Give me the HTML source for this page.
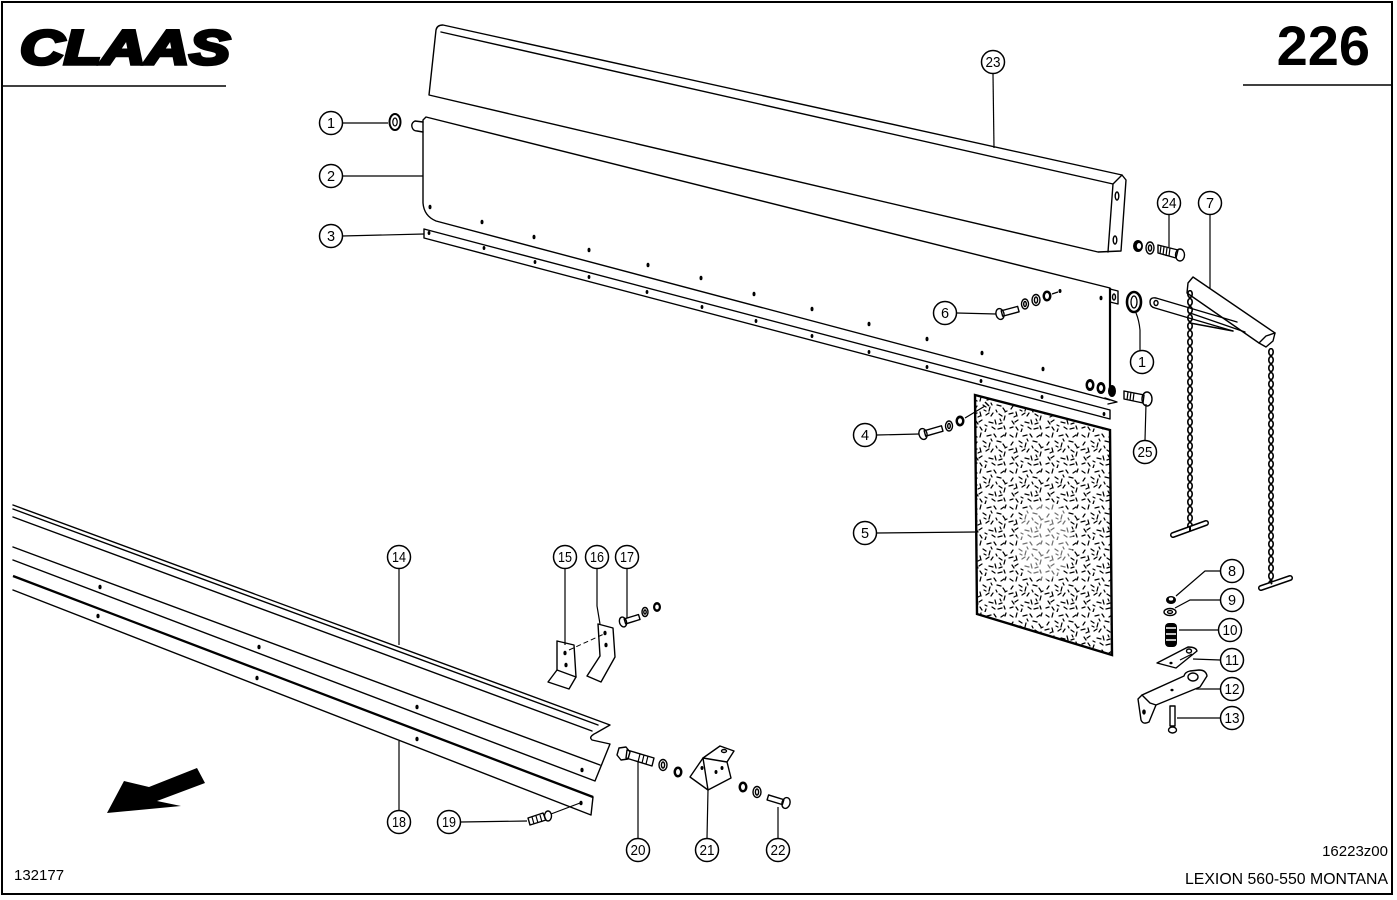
<!DOCTYPE html>
<html><head><meta charset="utf-8"><style>
html,body{margin:0;padding:0;background:#fff;}
svg{display:block;}
text{font-family:"Liberation Sans",Arial,sans-serif;}
.o{fill:none;stroke:#000;stroke-width:1.4;stroke-linejoin:round;stroke-linecap:round;}
.l{fill:none;stroke:#000;stroke-width:1.2;}
.lb circle{fill:#fff;stroke:#000;stroke-width:1.5;}
.lb text{font-size:14.5px;text-anchor:middle;fill:#000;}
.h{fill:#000;}
</style></head><body>
<svg width="1397" height="900" viewBox="0 0 1397 900" xmlns="http://www.w3.org/2000/svg">
<defs>
<pattern id="spk" width="36" height="36" patternUnits="userSpaceOnUse">
<path d="M2 3l3 2M9 1l-1 4M15 4l4-1M22 2l2 3M29 5l3-2M34 1l-1 3M5 10l-2 3M11 9l3 2M18 11l-1 4M25 9l4 1M31 12l2 3M1 18l4-1M8 16l1 4M14 19l3-2M21 17l-2 3M27 18l3 2M33 20l-1 4M4 25l2 3M10 24l-3 2M17 26l4 1M23 24l1 4M30 27l-3 1M2 32l3-1M8 31l2 3M14 33l-1 3M20 31l3 2M26 33l4-1M32 30l1 3M12 14l2 1M28 23l1 2M6 21l2-1M19 7l1 2M35 15l-2 1M24 14l1 2M13 29l2 1" stroke="#000" stroke-width="1.25" fill="none" stroke-linecap="round"/>
</pattern>
<pattern id="chL" x="1187" y="290" width="6" height="8" patternUnits="userSpaceOnUse">
<ellipse cx="3" cy="4" rx="2.2" ry="3.4" fill="none" stroke="#000" stroke-width="1.6"/>
</pattern>
<pattern id="chR" x="1268" y="348" width="6" height="8" patternUnits="userSpaceOnUse">
<ellipse cx="3" cy="4" rx="2.2" ry="3.4" fill="none" stroke="#000" stroke-width="1.6"/>
</pattern>
</defs>

<!-- frame -->
<rect x="2" y="2" width="1390" height="892" fill="none" stroke="#000" stroke-width="2"/>
<line x1="2" y1="86" x2="226" y2="86" stroke="#000" stroke-width="1.6"/>
<line x1="1243" y1="85" x2="1392" y2="85" stroke="#000" stroke-width="1.6"/>

<text x="20" y="64" font-size="48" font-weight="bold" font-style="italic" textLength="210" lengthAdjust="spacingAndGlyphs" stroke="#000" stroke-width="3.5" stroke-linejoin="miter">CLAAS</text>
<text x="1370" y="65" font-size="56" font-weight="bold" text-anchor="end">226</text>
<text x="14" y="880" font-size="15">132177</text>
<text x="1388" y="856" font-size="15" text-anchor="end">16223z00</text>
<text x="1388" y="884" font-size="16" text-anchor="end" textLength="203" lengthAdjust="spacingAndGlyphs">LEXION 560-550 MONTANA</text>

<!-- part 23 channel -->
<path class="o" d="M429,95 L436,30 Q437,25 443,25 L1122,175 L1126,180 L1121,251 L1098,252 Z"/>
<path class="o" d="M441,32 L1113,184 L1122,175 M1113,184 L1108,252"/>
<ellipse cx="1117" cy="196" rx="1.8" ry="4" class="o"/>
<ellipse cx="1115" cy="240" rx="1.8" ry="4" class="o"/>

<!-- part 2 panel -->
<path class="o" d="M1110,388 L1110,288 L426,117 L423,120 L423,203 Q424,216 436,221 L1110,400"/>
<path d="M1110,288 L1110,388" stroke="#000" stroke-width="2.2"/>
<path class="o" d="M1105,398 L1117,402 L1108,404"/>
<path class="o" d="M423,122 L415,121 Q411,123 412,127 Q413,131 417,131 L423,132"/>
<path class="o" d="M1110,289 L1118,291 L1118,304 L1110,302"/>
<ellipse cx="1114" cy="297" rx="1.5" ry="3" class="o"/>
<g class="h">
<ellipse cx="430" cy="207" rx="1.5" ry="2.3"/><ellipse cx="482" cy="222" rx="1.5" ry="2.3"/>
<ellipse cx="534" cy="237" rx="1.5" ry="2.3"/><ellipse cx="589" cy="250" rx="1.5" ry="2.3"/>
<ellipse cx="648" cy="265" rx="1.5" ry="2.3"/><ellipse cx="701" cy="278" rx="1.5" ry="2.3"/>
<ellipse cx="754" cy="294" rx="1.5" ry="2.3"/><ellipse cx="812" cy="309" rx="1.5" ry="2.3"/>
<ellipse cx="869" cy="324" rx="1.5" ry="2.3"/><ellipse cx="927" cy="339" rx="1.5" ry="2.3"/>
<ellipse cx="982" cy="353" rx="1.5" ry="2.3"/><ellipse cx="1043" cy="369" rx="1.5" ry="2.3"/>
<ellipse cx="1101" cy="298" rx="1.5" ry="2.3"/>
</g>

<!-- part 3 strip -->
<path class="o" d="M424,229 L1110,410 L1110,419 L424,238 Z"/>
<g class="h">
<ellipse cx="429" cy="233" rx="1.4" ry="2"/><ellipse cx="484" cy="248" rx="1.4" ry="2"/>
<ellipse cx="535" cy="262" rx="1.4" ry="2"/><ellipse cx="589" cy="277" rx="1.4" ry="2"/>
<ellipse cx="647" cy="292" rx="1.4" ry="2"/><ellipse cx="702" cy="307" rx="1.4" ry="2"/>
<ellipse cx="756" cy="321" rx="1.4" ry="2"/><ellipse cx="812" cy="336" rx="1.4" ry="2"/>
<ellipse cx="869" cy="352" rx="1.4" ry="2"/><ellipse cx="927" cy="367" rx="1.4" ry="2"/>
<ellipse cx="981" cy="381" rx="1.4" ry="2"/><ellipse cx="1042" cy="397" rx="1.4" ry="2"/>
<ellipse cx="1104" cy="414" rx="1.4" ry="2"/>
</g>

<!-- washers 1 -->
<ellipse cx="395" cy="122" rx="5.5" ry="8" fill="none" stroke="#000" stroke-width="2"/>
<ellipse cx="395" cy="122" rx="2.2" ry="4" fill="none" stroke="#000" stroke-width="1.2"/>
<ellipse cx="1134" cy="302" rx="7" ry="10" fill="none" stroke="#000" stroke-width="2.6"/>
<ellipse cx="1134" cy="302" rx="3" ry="6" fill="none" stroke="#000" stroke-width="1.3"/>

<!-- part 6 fasteners -->
<g transform="translate(1000,314) rotate(-15)">
<rect x="2" y="-2.8" width="17" height="5.6" class="o" fill="#fff"/>
<ellipse cx="0" cy="0" rx="4" ry="5.5" class="o" fill="#fff"/>
</g>
<ellipse cx="1025" cy="304" rx="3.5" ry="5" class="o"/>
<ellipse cx="1025" cy="304" rx="1.3" ry="2.5" class="o"/>
<ellipse cx="1036" cy="300" rx="4" ry="5.5" class="o"/>
<ellipse cx="1036" cy="300" rx="1.6" ry="3" class="o"/>
<ellipse cx="1047" cy="296" rx="4.5" ry="5.5" fill="#000"/>
<ellipse cx="1047" cy="296" rx="2" ry="3" fill="#fff"/>
<path class="l" d="M1052,294 L1058,292"/><ellipse cx="1060" cy="291" rx="1.5" ry="2" class="h"/>

<!-- part 24 fasteners -->
<ellipse cx="1138" cy="246" rx="5" ry="6" fill="#000"/>
<ellipse cx="1139" cy="246" rx="2.2" ry="3" fill="#fff"/>
<ellipse cx="1150" cy="248" rx="4" ry="6" class="o"/>
<ellipse cx="1150" cy="248" rx="1.6" ry="3" class="o"/>
<path class="o" d="M1158,245 L1178,250 L1176,258 L1158,253 Z"/>
<path class="l" d="M1161,246 l-1,8 M1164,247 l-1,8 M1167,248 l-1,8 M1170,248 l-1,8"/>
<ellipse cx="1180" cy="255" rx="4.5" ry="6" class="o" fill="#fff"/>

<!-- part 25 fasteners -->
<ellipse cx="1090" cy="385" rx="4.5" ry="6" fill="#000"/><ellipse cx="1090" cy="385" rx="2" ry="3" fill="#fff"/>
<ellipse cx="1101" cy="388" rx="4.5" ry="6" fill="#000"/><ellipse cx="1101" cy="388" rx="2" ry="3" fill="#fff"/>
<ellipse cx="1112" cy="391" rx="4" ry="6" fill="#000"/>
<path class="o" d="M1124,391 L1144,395 L1143,403 L1124,399 Z"/>
<path class="l" d="M1128,392 l-1,8 M1131,392 l-1,8 M1134,393 l-1,8"/>
<ellipse cx="1147" cy="399" rx="5" ry="7" class="o" fill="#fff"/>

<!-- part 4 fasteners -->
<g transform="translate(923,434) rotate(-16)">
<rect x="2" y="-2.8" width="18" height="5.6" class="o" fill="#fff"/>
<ellipse cx="0" cy="0" rx="4" ry="5.5" class="o" fill="#fff"/>
</g>
<ellipse cx="949" cy="426" rx="3.5" ry="5" class="o"/>
<ellipse cx="949" cy="426" rx="1.3" ry="2.5" class="o"/>
<ellipse cx="960" cy="421" rx="4.5" ry="5.5" fill="#000"/>
<ellipse cx="960" cy="421" rx="2" ry="2.8" fill="#fff"/>
<path class="l" d="M965,418 L985,406"/>

<!-- part 5 mat -->
<path d="M975,395 L1110,430 L1112,655 L977,614 Z" fill="url(#spk)" stroke="#000" stroke-width="2.4"/>
<ellipse cx="1045" cy="540" rx="28" ry="40" fill="#fff" opacity="0.45"/>
<path d="M985,402 l4,4" stroke="#000" stroke-width="1.5"/>

<!-- part 7 bracket and chains -->
<path class="o" d="M1188,283 L1193,277 L1275,333 L1273,341 L1266,347 L1259,343 L1187,293 Z"/>
<path class="o" d="M1259,343 L1266,336 L1275,333"/>
<path class="o" d="M1237,322 L1156,298 Q1150,297 1150,302 Q1150,307 1155,308 L1233,331"/>
<ellipse cx="1156" cy="303" rx="2" ry="2.5" class="o"/>
<path class="o" d="M1190,313 L1245,332 M1190,323 L1233,331"/>
<rect x="1187" y="290" width="6" height="238" fill="url(#chL)"/>
<rect x="1268" y="348" width="6" height="236" fill="url(#chR)"/>
<path d="M1173,535 L1206,523" stroke="#000" stroke-width="6" stroke-linecap="round"/>
<path d="M1173,535 L1206,523" stroke="#fff" stroke-width="3" stroke-linecap="round"/>
<path d="M1261,588 L1290,578" stroke="#000" stroke-width="6" stroke-linecap="round"/>
<path d="M1261,588 L1290,578" stroke="#fff" stroke-width="3" stroke-linecap="round"/>
<path d="M1190,527 L1190,531 M1271,583 L1272,584" stroke="#000" stroke-width="2"/>

<!-- parts 8-13 -->
<ellipse cx="1171" cy="600" rx="5" ry="4" fill="#000"/><ellipse cx="1171" cy="599" rx="2.2" ry="1.6" fill="#fff"/>
<ellipse cx="1170" cy="612" rx="6" ry="3.5" class="o"/><ellipse cx="1170" cy="612" rx="2.5" ry="1.4" class="o"/>
<rect x="1165" y="623" width="12" height="24" rx="4" fill="#000"/>
<path d="M1166,628 h10 M1166,634 h10 M1166,640 h10" stroke="#fff" stroke-width="1.6"/>
<path class="o" d="M1157,663 L1188,647 Q1196,647 1197,651 L1176,668 Z"/>
<ellipse cx="1171" cy="663" rx="1.6" ry="1.3" class="h"/>
<ellipse cx="1189" cy="651" rx="2.5" ry="2" class="o"/>
<path class="l" d="M1180,660 L1192,654"/>
<path class="o" d="M1138,699 L1141,720 Q1143,725 1149,722 L1156,705 L1200,687 L1207,676 Q1206,670 1199,670 L1190,671 Q1185,672 1184,676 L1142,695 Z"/>
<path class="o" d="M1142,695 L1150,703 L1156,705"/>
<ellipse cx="1193" cy="677" rx="5" ry="4" class="o" fill="#fff"/>
<ellipse cx="1144" cy="712" rx="1.8" ry="2.6" class="h"/>
<ellipse cx="1172" cy="690" rx="1.6" ry="1.3" class="h"/>
<path class="o" d="M1170,706 L1170,726 L1175,726 L1175,706 Z"/>
<ellipse cx="1172.5" cy="730" rx="4" ry="3" class="o" fill="#fff"/>

<!-- part 14 channel -->
<path class="o" d="M13,505 L610,725 L596,733 Q588,737 592,740 L610,744 L595,781 L13,560"/>
<path class="o" d="M13,509 L598,725 M13,517 L592,731 M13,547 L600,765"/>
<g class="h">
<ellipse cx="100" cy="587" rx="1.6" ry="2.3"/><ellipse cx="259" cy="647" rx="1.6" ry="2.3"/>
<ellipse cx="417" cy="707" rx="1.6" ry="2.3"/><ellipse cx="582" cy="770" rx="1.6" ry="2.3"/>
</g>
<!-- part 18 strip -->
<path d="M13,576 L593,797" stroke="#000" stroke-width="2.3"/>
<path class="o" d="M593,797 L591,815 L13,590"/>
<g class="h">
<ellipse cx="98" cy="616" rx="1.6" ry="2.3"/><ellipse cx="257" cy="678" rx="1.6" ry="2.3"/>
<ellipse cx="417" cy="739" rx="1.6" ry="2.3"/><ellipse cx="581" cy="803" rx="1.6" ry="2.3"/>
</g>
<!-- part 19 -->
<path class="o" d="M528,818 L543,813 L546,820 L530,825 Z"/>
<path class="l" d="M532,817 l2,7 M536,816 l2,7 M540,815 l2,7"/>
<ellipse cx="548" cy="816" rx="3.5" ry="5" class="o" fill="#fff"/>
<path class="l" d="M551,814 L580,803"/>

<!-- parts 15-17 -->
<path class="o" d="M557,641 L574,645 L576,677 L569,689 L548,682 L557,670 Z"/>
<path class="o" d="M557,670 L576,677"/>
<ellipse cx="565" cy="653" rx="1.6" ry="2.3" class="h"/><ellipse cx="566" cy="665" rx="1.6" ry="2.3" class="h"/>
<path class="o" d="M598,624 L613,628 L615,657 L601,682 L587,676 L600,656 Z"/>
<ellipse cx="605" cy="633" rx="1.6" ry="2.3" class="h"/><ellipse cx="606" cy="645" rx="1.6" ry="2.3" class="h"/>
<path d="M569,650 L604,634" stroke="#000" stroke-width="1" stroke-dasharray="5,3"/>
<g transform="translate(623,622) rotate(-17)">
<rect x="2" y="-2.6" width="15" height="5.2" class="o" fill="#fff"/>
<ellipse cx="0" cy="0" rx="3.5" ry="5" class="o" fill="#fff"/>
</g>
<ellipse cx="645" cy="612" rx="3" ry="4.5" class="o"/><ellipse cx="645" cy="612" rx="1.2" ry="2" class="o"/>
<ellipse cx="657" cy="607" rx="4" ry="5" fill="#000"/><ellipse cx="657" cy="607" rx="1.8" ry="2.4" fill="#fff"/>

<!-- parts 20-22 -->
<path class="o" d="M627,750 L654,758 L652,766 L626,758 Z"/>
<path class="l" d="M640,754 l-2,8 M644,755 l-2,8 M648,756 l-2,8"/>
<path class="o" d="M619,748 L626,747 L630,752 L628,759 L621,760 L617,755 Z" fill="#fff"/>
<ellipse cx="663" cy="765" rx="4" ry="5.5" class="o"/><ellipse cx="663" cy="765" rx="1.6" ry="3" class="o"/>
<ellipse cx="678" cy="772" rx="4.5" ry="5.5" fill="#000"/><ellipse cx="678" cy="772" rx="2" ry="3" fill="#fff"/>
<path class="o" d="M690,777 L703,758 L720,746 L734,751 L727,762 L731,778 L708,790 Z"/>
<path class="o" d="M703,758 L727,762 M708,790 L703,758"/>
<ellipse cx="724" cy="751" rx="2.5" ry="1.5" class="o"/>
<ellipse cx="702" cy="768" rx="1.5" ry="2" class="h"/>
<ellipse cx="716" cy="772" rx="1.5" ry="2" class="h"/><ellipse cx="722" cy="768" rx="1.5" ry="2" class="h"/>
<ellipse cx="743" cy="787" rx="4.5" ry="5.5" fill="#000"/><ellipse cx="743" cy="787" rx="2" ry="3" fill="#fff"/>
<ellipse cx="757" cy="792" rx="4" ry="5.5" class="o"/><ellipse cx="757" cy="792" rx="1.6" ry="3" class="o"/>
<g transform="translate(786,803) rotate(17)">
<rect x="-19" y="-2.6" width="16" height="5.2" class="o" fill="#fff"/>
<ellipse cx="0" cy="0" rx="4" ry="5.5" class="o" fill="#fff"/>
</g>

<!-- arrow -->
<path d="M107,813 L124,781 L149,787 L197,768 L205,783 L157,801 L181,806 Z" fill="#000"/>

<!-- leaders -->
<g class="l">
<path d="M342,123 L388,123"/><path d="M342,176 L423,176"/><path d="M342,236 L424,234"/>
<path d="M993,74 L994,148"/><path d="M1169,215 L1169,247"/><path d="M1210,215 L1210,288"/>
<path d="M957,313 L996,314"/><path d="M1140,350 L1140,330 Q1139,320 1136,313"/>
<path d="M877,435 L919,434"/><path d="M1145,440 L1146,404"/><path d="M877,533 L975,532"/>
<path d="M1220,571 L1205,571 L1176,596"/><path d="M1220,600 L1190,600 L1175,608"/>
<path d="M1218,630 L1179,630"/><path d="M1220,660 L1193,659"/><path d="M1220,689 L1196,689"/>
<path d="M1220,718 L1177,718"/>
<path d="M399,569 L399,645"/><path d="M399,810 L399,741"/><path d="M461,822 L527,821"/>
<path d="M565,569 L565,645"/><path d="M597,569 L597,606 L600,624"/><path d="M627,569 L627,618"/>
<path d="M638,838 L638,762"/><path d="M707,838 L708,790"/><path d="M778,838 L778,807"/>
</g>

<!-- labels -->
<g class="lb">
<circle cx="331" cy="123" r="11.5"/><text x="331" y="128">1</text>
<circle cx="331" cy="176" r="11.5"/><text x="331" y="181">2</text>
<circle cx="331" cy="236" r="11.5"/><text x="331" y="241">3</text>
<circle cx="993" cy="62" r="11.5"/><text x="993" y="67" textLength="15" lengthAdjust="spacingAndGlyphs">23</text>
<circle cx="1169" cy="203" r="11.5"/><text x="1169" y="208" textLength="15" lengthAdjust="spacingAndGlyphs">24</text>
<circle cx="1210" cy="203" r="11.5"/><text x="1210" y="208">7</text>
<circle cx="945" cy="313" r="11.5"/><text x="945" y="318">6</text>
<circle cx="1142" cy="362" r="11.5"/><text x="1142" y="367">1</text>
<circle cx="865" cy="435" r="11.5"/><text x="865" y="440">4</text>
<circle cx="1145" cy="452" r="11.5"/><text x="1145" y="457" textLength="15" lengthAdjust="spacingAndGlyphs">25</text>
<circle cx="865" cy="533" r="11.5"/><text x="865" y="538">5</text>
<circle cx="1232" cy="571" r="11.5"/><text x="1232" y="576">8</text>
<circle cx="1232" cy="600" r="11.5"/><text x="1232" y="605">9</text>
<circle cx="1230" cy="630" r="11.5"/><text x="1230" y="635" textLength="15" lengthAdjust="spacingAndGlyphs">10</text>
<circle cx="1232" cy="660" r="11.5"/><text x="1232" y="665" textLength="14" lengthAdjust="spacingAndGlyphs">11</text>
<circle cx="1232" cy="689" r="11.5"/><text x="1232" y="694" textLength="15" lengthAdjust="spacingAndGlyphs">12</text>
<circle cx="1232" cy="718" r="11.5"/><text x="1232" y="723" textLength="15" lengthAdjust="spacingAndGlyphs">13</text>
<circle cx="399" cy="557" r="11.5"/><text x="399" y="562" textLength="14" lengthAdjust="spacingAndGlyphs">14</text>
<circle cx="565" cy="557" r="11.5"/><text x="565" y="562" textLength="14" lengthAdjust="spacingAndGlyphs">15</text>
<circle cx="597" cy="557" r="11.5"/><text x="597" y="562" textLength="14" lengthAdjust="spacingAndGlyphs">16</text>
<circle cx="627" cy="557" r="11.5"/><text x="627" y="562" textLength="14" lengthAdjust="spacingAndGlyphs">17</text>
<circle cx="399" cy="822" r="11.5"/><text x="399" y="827" textLength="14" lengthAdjust="spacingAndGlyphs">18</text>
<circle cx="449" cy="822" r="11.5"/><text x="449" y="827" textLength="14" lengthAdjust="spacingAndGlyphs">19</text>
<circle cx="638" cy="850" r="11.5"/><text x="638" y="855" textLength="15" lengthAdjust="spacingAndGlyphs">20</text>
<circle cx="707" cy="850" r="11.5"/><text x="707" y="855" textLength="15" lengthAdjust="spacingAndGlyphs">21</text>
<circle cx="778" cy="850" r="11.5"/><text x="778" y="855" textLength="15" lengthAdjust="spacingAndGlyphs">22</text>
</g>
</svg>
</body></html>
